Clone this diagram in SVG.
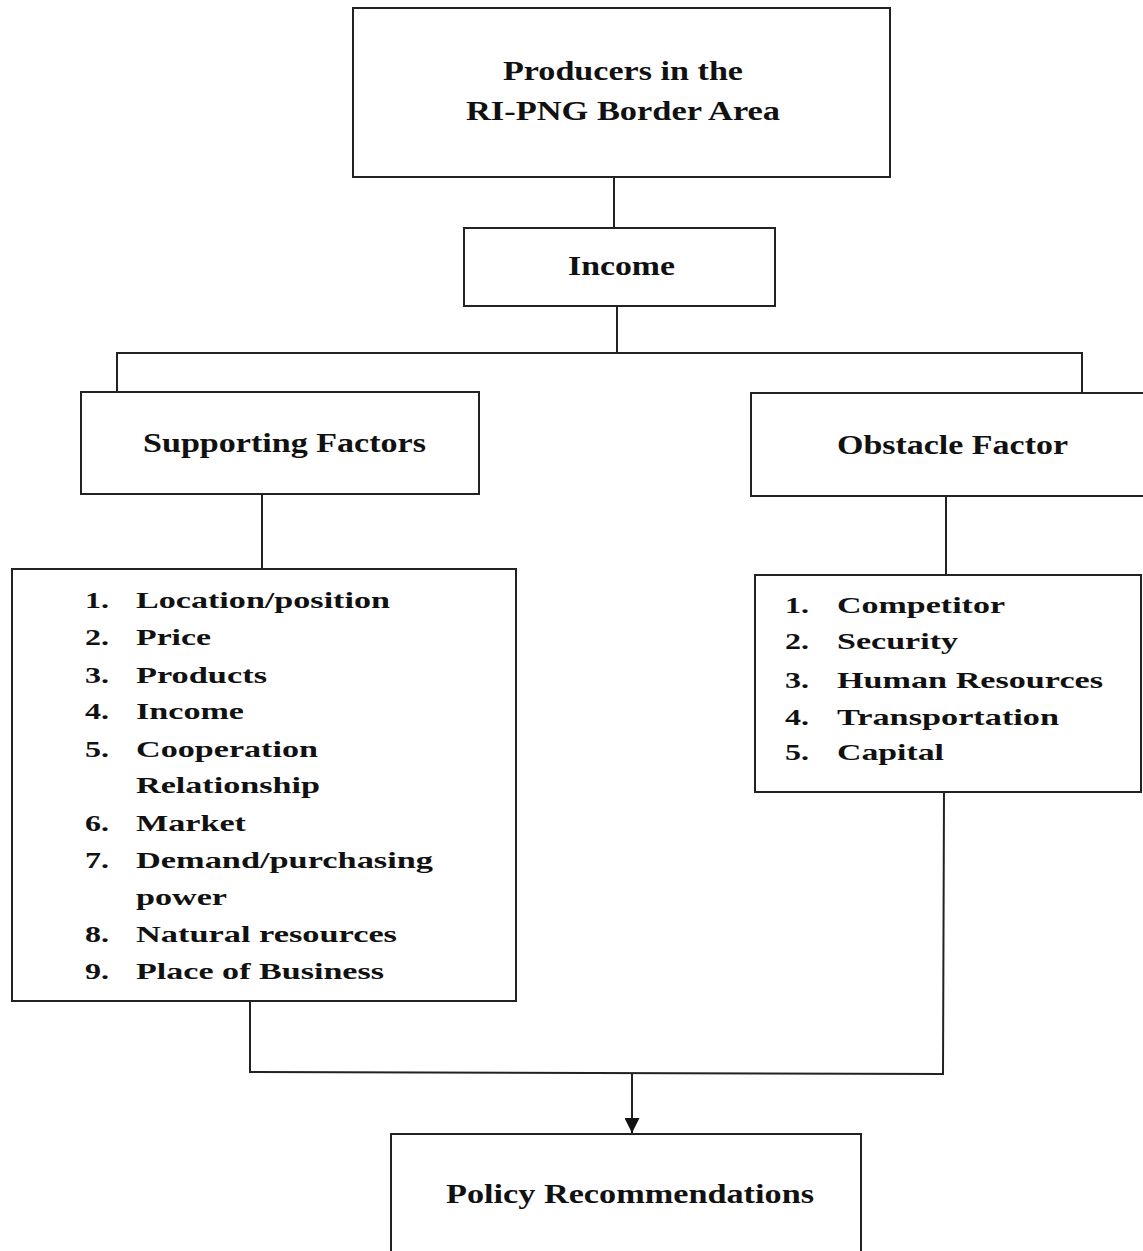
<svg xmlns="http://www.w3.org/2000/svg" width="1143" height="1251" viewBox="0 0 1143 1251">
<style>
.box{fill:#fff;stroke:#222;stroke-width:2}
.ln{fill:none;stroke:#222;stroke-width:2}
.h{font-family:"Liberation Serif","Times New Roman",serif;font-weight:bold;font-size:27px;fill:#111}
.li{font-family:"Liberation Serif","Times New Roman",serif;font-weight:bold;font-size:23px;fill:#111}
</style>
<defs>
<marker id="arr" viewBox="0 0 10 10" refX="10" refY="5" markerWidth="15" markerHeight="15" markerUnits="userSpaceOnUse" orient="auto">
<path d="M0,0 L10,5 L0,10 Z" fill="#111"/>
</marker>
</defs>
<rect width="1143" height="1251" fill="#fff"/>
<g id="connectors">
<line class="ln" x1="614" y1="177" x2="614" y2="228"/>
<line class="ln" x1="617" y1="306" x2="617" y2="353"/>
<polyline class="ln" points="117,392 117,353 1082,353 1082,393"/>
<line class="ln" x1="262" y1="494" x2="262" y2="569"/>
<line class="ln" x1="946" y1="496" x2="946" y2="575"/>
<polyline class="ln" points="250,1001 250,1072 943,1074 944,792"/>
<line class="ln" x1="632" y1="1073" x2="632" y2="1133" marker-end="url(#arr)"/>
</g>
<g id="producers">
<rect class="box" x="353" y="8" width="537" height="169"/>
<text class="h" x="503" y="80" textLength="240" lengthAdjust="spacingAndGlyphs">Producers in the</text>
<text class="h" x="466" y="120" textLength="314" lengthAdjust="spacingAndGlyphs">RI-PNG Border Area</text>
</g>
<g id="income">
<rect class="box" x="464" y="228" width="311" height="78"/>
<text class="h" x="568" y="275" textLength="107" lengthAdjust="spacingAndGlyphs">Income</text>
</g>
<g id="supporting">
<rect class="box" x="81" y="392" width="398" height="102"/>
<text class="h" x="143" y="452" textLength="283" lengthAdjust="spacingAndGlyphs">Supporting Factors</text>
</g>
<g id="obstacle">
<rect class="box" x="751" y="393" width="400" height="103"/>
<text class="h" x="837" y="454" textLength="231" lengthAdjust="spacingAndGlyphs">Obstacle Factor</text>
</g>
<g id="supporting-list">
<rect class="box" x="12" y="569" width="504" height="432"/>
<g class="li">
<text x="85" y="608" textLength="24" lengthAdjust="spacingAndGlyphs">1.</text>
<text x="136" y="608" textLength="254" lengthAdjust="spacingAndGlyphs">Location/position</text>
<text x="85" y="645" textLength="24" lengthAdjust="spacingAndGlyphs">2.</text>
<text x="136" y="645" textLength="75" lengthAdjust="spacingAndGlyphs">Price</text>
<text x="85" y="683" textLength="24" lengthAdjust="spacingAndGlyphs">3.</text>
<text x="136" y="683" textLength="131" lengthAdjust="spacingAndGlyphs">Products</text>
<text x="85" y="719" textLength="24" lengthAdjust="spacingAndGlyphs">4.</text>
<text x="136" y="719" textLength="108" lengthAdjust="spacingAndGlyphs">Income</text>
<text x="85" y="757" textLength="24" lengthAdjust="spacingAndGlyphs">5.</text>
<text x="136" y="757" textLength="182" lengthAdjust="spacingAndGlyphs">Cooperation</text>
<text x="136" y="793" textLength="184" lengthAdjust="spacingAndGlyphs">Relationship</text>
<text x="85" y="831" textLength="24" lengthAdjust="spacingAndGlyphs">6.</text>
<text x="136" y="831" textLength="110" lengthAdjust="spacingAndGlyphs">Market</text>
<text x="85" y="868" textLength="24" lengthAdjust="spacingAndGlyphs">7.</text>
<text x="136" y="868" textLength="297" lengthAdjust="spacingAndGlyphs">Demand/purchasing</text>
<text x="136" y="905" textLength="91" lengthAdjust="spacingAndGlyphs">power</text>
<text x="85" y="942" textLength="24" lengthAdjust="spacingAndGlyphs">8.</text>
<text x="136" y="942" textLength="261" lengthAdjust="spacingAndGlyphs">Natural resources</text>
<text x="85" y="979" textLength="24" lengthAdjust="spacingAndGlyphs">9.</text>
<text x="136" y="979" textLength="248" lengthAdjust="spacingAndGlyphs">Place of Business</text>
</g>
</g>
<g id="obstacle-list">
<rect class="box" x="755" y="575" width="386" height="217"/>
<g class="li">
<text x="785" y="613" textLength="24" lengthAdjust="spacingAndGlyphs">1.</text>
<text x="837" y="613" textLength="168" lengthAdjust="spacingAndGlyphs">Competitor</text>
<text x="785" y="649" textLength="24" lengthAdjust="spacingAndGlyphs">2.</text>
<text x="837" y="649" textLength="121" lengthAdjust="spacingAndGlyphs">Security</text>
<text x="785" y="688" textLength="24" lengthAdjust="spacingAndGlyphs">3.</text>
<text x="837" y="688" textLength="266" lengthAdjust="spacingAndGlyphs">Human Resources</text>
<text x="785" y="725" textLength="24" lengthAdjust="spacingAndGlyphs">4.</text>
<text x="837" y="725" textLength="222" lengthAdjust="spacingAndGlyphs">Transportation</text>
<text x="785" y="760" textLength="24" lengthAdjust="spacingAndGlyphs">5.</text>
<text x="837" y="760" textLength="107" lengthAdjust="spacingAndGlyphs">Capital</text>
</g>
</g>
<g id="policy">
<rect class="box" x="391" y="1134" width="470" height="140"/>
<text class="h" x="446" y="1203" textLength="368" lengthAdjust="spacingAndGlyphs">Policy Recommendations</text>
</g>
</svg>
